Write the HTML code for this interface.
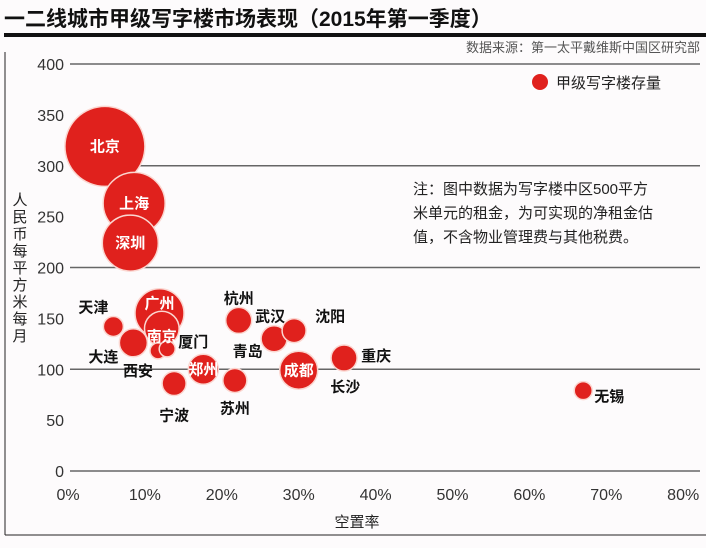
<!DOCTYPE html>
<html><head><meta charset="utf-8">
<style>
html,body{margin:0;padding:0;background:#fdfbfc;}
body{width:706px;height:543px;overflow:hidden;position:relative;font-family:"Liberation Sans","Noto Sans CJK SC",sans-serif;}
svg text{font-family:"Liberation Sans","Noto Sans CJK SC",sans-serif;}
</style></head>
<body>
<svg id="chart" width="706" height="543" viewBox="0 0 706 543" xmlns="http://www.w3.org/2000/svg">
<text x="4" y="26" font-size="21" font-weight="bold" fill="#111">一二线城市甲级写字楼市场表现（2015年第一季度）</text>
<rect x="4" y="33" width="702" height="4" fill="#111"/>
<text x="700" y="52" font-size="13" fill="#555" text-anchor="end">数据来源：第一太平戴维斯中国区研究部</text>
<line x1="5" y1="52" x2="5" y2="535" stroke="#222" stroke-width="1"/>
<line x1="5" y1="535" x2="706" y2="535" stroke="#222" stroke-width="1"/>
<g id="grid"></g>
<g id="bubbles"></g>
<g id="labels"></g>
<text x="357" y="527" font-size="15" fill="#222" text-anchor="middle">空置率</text>
<g font-size="15" fill="#222" text-anchor="middle">
<text x="20" y="205">人</text><text x="20" y="222">民</text><text x="20" y="239">币</text><text x="20" y="256">每</text><text x="20" y="273">平</text><text x="20" y="290">方</text><text x="20" y="307">米</text><text x="20" y="324">每</text><text x="20" y="341">月</text>
</g>
<circle cx="540" cy="82" r="8" fill="#e0211d"/>
<text x="556" y="88" font-size="15" fill="#222">甲级写字楼存量</text>
<g font-size="15" fill="#222">
<text x="413" y="194">注：图中数据为写字楼中区500平方</text>
<text x="413" y="218">米单元的租金，为可实现的净租金估</text>
<text x="413" y="242">值，不含物业管理费与其他税费。</text>
</g>
</svg>
<script>
const cities=["北京","上海","深圳","广州","南京","天津","大连","西安","厦门","郑州","宁波","杭州","青岛","苏州","武汉","沈阳","成都","长沙","重庆","无锡"];
const vacancy=[4.8,8.6,8.1,11.9,12.2,5.9,8.5,11.7,12.9,17.6,13.8,22.2,21.8,21.7,26.8,29.4,30.0,35.8,35.9,67.0];
const rent=[319,263,224,155,140,142,126,118,120,100,86,148,90,89,130,138,99,110,111,79];
const stock=[1600,961,784,600,300,100,196,64,64,225,144,169,100,144,169,144,361,100,169,81];
const yTicks=[0,50,100,150,200,250,300,350,400];
const xTicks=[0,10,20,30,40,50,60,70,80];
const xTickLabels=["0%","10%","20%","30%","40%","50%","60%","70%","80%"];
const gridValues=[0,100,200,300,400];
// layout (not data): label placement per city
const inside=[1,1,1,1,1,0,0,0,0,1,0,0,0,0,0,0,1,0,0,0];
const labelOff=[[0,0],[0,0],[0,0],[0,-10],[0,8],[-20,-19],[-30,14],[-20,20],[26,-7],[0,0],[0,32],[0,-22],[12,-28],[0,28],[-4,-22],[36,-14],[0,0],[2,28],[32,-2],[26,6]];
const X=p=>68+p*7.69;
const Y=v=>471-v*1.0175;
const R=s=>Math.sqrt(s);
const NS="http://www.w3.org/2000/svg";
const grid=document.getElementById('grid');
gridValues.forEach(v=>{const l=document.createElementNS(NS,'line');


l.setAttribute('x1',70);l.setAttribute('x2',700);l.setAttribute('y1',Y(v));l.setAttribute('y2',Y(v));
l.setAttribute('stroke','#666');l.setAttribute('stroke-width','1.5');grid.appendChild(l);});
yTicks.forEach(v=>{const t=document.createElementNS(NS,'text');


t.setAttribute('x',64);t.setAttribute('y',Y(v)+6);t.setAttribute('text-anchor','end');t.setAttribute('font-size','16');t.setAttribute('fill','#333');
t.textContent=v;grid.appendChild(t);});
xTicks.forEach((v,i)=>{const t=document.createElementNS(NS,'text');


t.setAttribute('x',X(v));t.setAttribute('y',500);t.setAttribute('text-anchor','middle');t.setAttribute('font-size','16');t.setAttribute('fill','#333');
t.textContent=xTickLabels[i];grid.appendChild(t);});
const bg=document.getElementById('bubbles'),lg=document.getElementById('labels');
cities.forEach((c,i)=>{const cx=X(vacancy[i]),cy=Y(rent[i]),r=R(stock[i]);
const ci=document.createElementNS(NS,'circle');


ci.setAttribute('cx',cx);ci.setAttribute('cy',cy);ci.setAttribute('r',r);ci.setAttribute('fill','#e0211d');
ci.setAttribute('stroke','#fbd6d0');ci.setAttribute('stroke-width','1.5');bg.appendChild(ci);
const t=document.createElementNS(NS,'text');


t.setAttribute('x',cx+labelOff[i][0]);t.setAttribute('y',cy+labelOff[i][1]+5);t.setAttribute('text-anchor','middle');
t.setAttribute('font-size','15');t.setAttribute('font-weight','bold');t.setAttribute('fill',inside[i]?'#fff':'#111');
t.textContent=c;lg.appendChild(t);});
</script>
</body></html>
